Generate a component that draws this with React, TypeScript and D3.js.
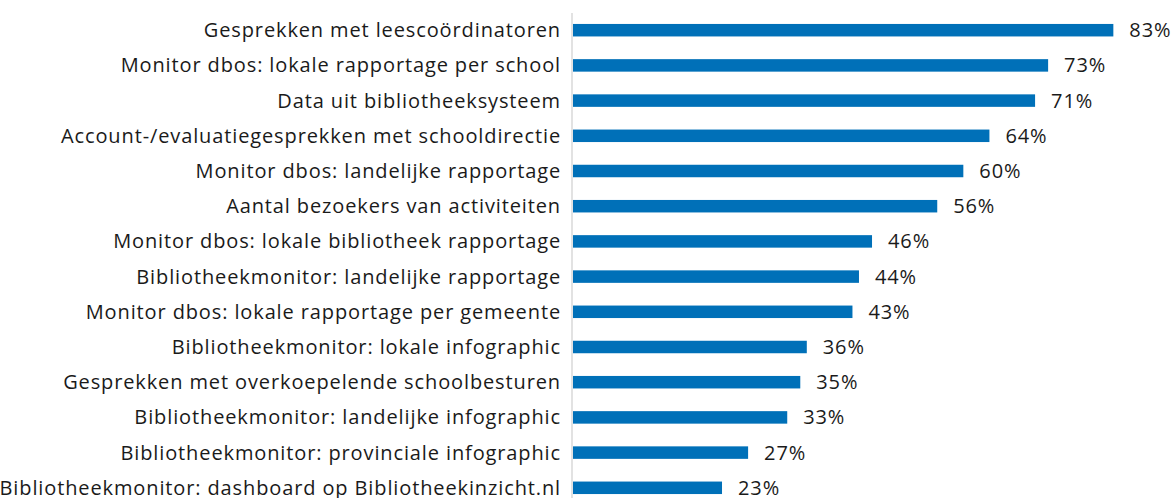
import React from 'react';
import * as d3 from 'd3';

const categories = [
  'Gesprekken met leescoördinatoren',
  'Monitor dbos: lokale rapportage per school',
  'Data uit bibliotheeksysteem',
  'Account-/evaluatiegesprekken met schooldirectie',
  'Monitor dbos: landelijke rapportage',
  'Aantal bezoekers van activiteiten',
  'Monitor dbos: lokale bibliotheek rapportage',
  'Bibliotheekmonitor: landelijke rapportage',
  'Monitor dbos: lokale rapportage per gemeente',
  'Bibliotheekmonitor: lokale infographic',
  'Gesprekken met overkoepelende schoolbesturen',
  'Bibliotheekmonitor: landelijke infographic',
  'Bibliotheekmonitor: provinciale infographic',
  'Bibliotheekmonitor: dashboard op Bibliotheekinzicht.nl',
];

const values = [0.83, 0.73, 0.71, 0.64, 0.6, 0.56, 0.46, 0.44, 0.43, 0.36, 0.35, 0.33, 0.27, 0.23];

const width = 1172;
const height = 498;
const font = "'Open Sans', 'Liberation Sans', sans-serif";

export default function App() {
  const x = d3.scaleLinear().domain([0, 0.9]).range([572, 1159]);
  const y = d3
    .scaleBand<string>()
    .domain(categories)
    .range([12.6, 12.6 + categories.length * 35.2])
    .paddingInner(0.645)
    .paddingOuter(0.3225);
  const fmt = d3.format('.0%');

  return (
    <svg
      width={width}
      height={height}
      style={{ position: 'absolute', left: 0, top: 0, background: '#fff' }}
      fontFamily={font}
    >
      {/* bars */}
      {categories.map((c, i) => (
        <rect
          key={c}
          x={x(0) + 1}
          y={y(c)}
          width={x(values[i]) - x(0) - 1}
          height={y.bandwidth()}
          fill="#0070B8"
        />
      ))}
      {/* category axis line */}
      <line x1={x(0)} x2={x(0)} y1={13} y2={height} stroke="#d9d9d9" strokeWidth={1.5} />
      {/* category labels */}
      {categories.map((c) => (
        <text
          key={'l' + c}
          x={561}
          y={(y(c) ?? 0) + y.bandwidth() / 2}
          dy="0.35em"
          textAnchor="end"
          fontSize={20}
          letterSpacing={0.88}
          fill="#1a1a1a"
        >
          {c}
        </text>
      ))}
      {/* value labels */}
      {categories.map((c, i) => (
        <text
          key={'v' + c}
          x={x(values[i]) + 16}
          y={(y(c) ?? 0) + y.bandwidth() / 2}
          dy="0.35em"
          fontSize={20}
          letterSpacing={0.88}
          fill="#1a1a1a"
        >
          {fmt(values[i])}
        </text>
      ))}
    </svg>
  );
}
